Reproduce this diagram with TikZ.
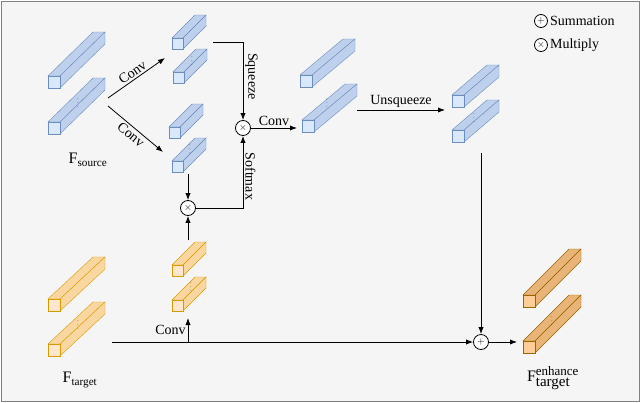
\documentclass[tikz,border=0pt]{standalone}
\usepackage{fontspec}
\setmainfont{Liberation Serif}
\usetikzlibrary{arrows.meta}
\definecolor{bedge}{RGB}{108,142,191}
\definecolor{bfill}{RGB}{190,208,236}
\definecolor{bfront}{RGB}{218,232,252}
\definecolor{oedge}{RGB}{215,155,0}
\definecolor{ofill}{RGB}{250,215,160}
\definecolor{ofront}{RGB}{255,230,204}
\definecolor{eedge}{RGB}{153,102,0}
\definecolor{efill}{RGB}{232,180,120}
\definecolor{efront}{RGB}{252,205,150}
\tikzset{
  blue bar/.style={draw=bedge, fill=bfill},
  blue front/.style={draw=bedge, fill=bfront},
  org bar/.style={draw=oedge, fill=ofill},
  org front/.style={draw=oedge, fill=ofront},
  enh bar/.style={draw=eedge, fill=efill},
  enh front/.style={draw=eedge, fill=efront},
  op/.style={circle, draw, thick, fill=white, minimum size=15pt, inner sep=0pt},
  arr/.style={-{Latex[length=7pt]}, thick},
  lbl/.style={font=\fontsize{14}{15}\selectfont, inner sep=2pt},
  flbl/.style={font=\fontsize{16}{17}\selectfont}
}
% feature bar: x, y (top-left of front face), size, depth dx, dy, kind
\newcommand{\fbar}[6]{%
  \filldraw[#6 bar] (#1,#2) -- (#1+#3,#2) -- (#1+#3+#4,#2+#5) -- (#1+#4,#2+#5) -- cycle;
  \filldraw[#6 bar] (#1+#3,#2) -- (#1+#3,#2+#3) -- (#1+#3+#4,#2+#3+#5) -- (#1+#3+#4,#2+#5) -- cycle;
  \filldraw[#6 front] (#1,#2) rectangle (#1+#3,#2+#3);
}
\newcommand{\vdotsat}[2]{\node[font=\tiny, inner sep=0pt] at (#1,#2) {$\vdots$};}
\begin{document}
\begin{tikzpicture}[x=1pt, y=-1pt]
\filldraw[draw=gray, fill=gray!8] (1,1) rectangle (639,401);
\useasboundingbox (0,0) rectangle (640,402);

% source features
\fbar{48}{76}{12}{45}{-44}{blue}
\fbar{48}{122}{12}{45}{-44}{blue}
\vdotsat{78}{100}
\node[flbl] (src) at (88,160) {F\textsubscript{source}};
% conv branches
\fbar{172}{38}{11}{23}{-23}{blue}
\fbar{173}{72}{11}{23}{-23}{blue}
\vdotsat{192}{58}
\fbar{169}{127}{11}{23}{-23}{blue}
\fbar{172}{161}{11}{23}{-23}{blue}
\vdotsat{190}{146}
% middle group
\fbar{300}{75}{12}{43}{-36}{blue}
\fbar{302}{120}{12}{43}{-36}{blue}
\vdotsat{327}{100}
% unsqueeze group
\fbar{452}{95}{12}{35}{-30}{blue}
\fbar{452}{130}{12}{35}{-30}{blue}
\vdotsat{474}{115}
% target features
\fbar{48}{299}{12}{45}{-42}{org}
\fbar{48}{344}{12}{45}{-42}{org}
\vdotsat{78}{322}
\node[flbl] (tgt) at (80,380) {F\textsubscript{target}};
\fbar{172}{265}{11}{23}{-23}{org}
\fbar{172}{300}{11}{23}{-23}{org}
\vdotsat{191}{284}
% enhanced output
\fbar{523}{295}{12}{46}{-46}{enh}
\fbar{523}{341}{12}{46}{-46}{enh}
\vdotsat{552}{318}
\node[flbl] (out) at (553,378) {F$^{\mbox{\fontsize{13}{13}\selectfont enhance}}_{\mbox{\fontsize{15}{15}\selectfont target}}$};

% operators
\node[op] (mul1) at (243,128) {$\times$};
\node[op] (mul2) at (188,208) {$\times$};
\node[op] (sum) at (481,342) {$+$};
\node[op, minimum size=13pt] (lsum) at (541,21) {$+$};
\node[anchor=west, lbl] at (lsum.east) {Summation};
\node[op, minimum size=13pt] (lmul) at (541,45) {$\times$};
\node[anchor=west, lbl] at (lmul.east) {Multiply};

\coordinate (s1) at (108,98);
\coordinate (s2) at (108,106);
\coordinate (c1) at (165,58);
\coordinate (c2) at (163,152);
\coordinate (q) at (213,42);
\coordinate (k) at (188,174);
\coordinate (m) at (297,128);
\coordinate (u1) at (357,110);
\coordinate (u2) at (445,110);
\coordinate (d) at (481,153);
\coordinate (t) at (112,342);
\coordinate (tc) at (188,342);
\coordinate (tc2) at (188,318);
\coordinate (ot) at (188,240);
\coordinate (e) at (517,342);

\draw[arr] (s1) -- node[sloped, above, lbl] {Conv} (c1);
\draw[arr] (s2) -- node[sloped, below, lbl] {Conv} (c2);
\draw[arr] (q) -| node[pos=0.72, rotate=-90, anchor=south, lbl] {Squeeze} (mul1);
\draw[arr] (mul2) -| node[pos=0.72, rotate=-90, anchor=south, lbl] {Softmax} (mul1);
\draw[arr] (k) -- (mul2);
\draw[arr] (ot) -- (mul2);
\draw[arr] (mul1) -- node[above, lbl] {Conv} (m);
\draw[arr] (u1) -- node[above, lbl] {Unsqueeze} (u2);
\draw[arr] (d) -- (sum);
\draw[arr] (t) -- (sum);
\draw[arr] (tc) -- node[left, lbl] {Conv} (tc2);
\draw[arr] (sum) -- (e);
\end{tikzpicture}
\end{document}
